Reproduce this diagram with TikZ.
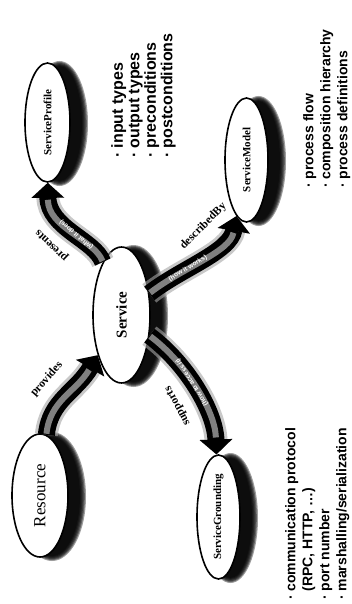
\documentclass[tikz,border=0pt]{standalone}
\usepackage{fontspec}
\setmainfont{Liberation Serif}
\newfontfamily\listfont{Liberation Sans}
\usetikzlibrary{arrows.meta,shapes.geometric}
\newcommand\bul{\makebox[0.6em][l]{·}}
\begin{document}
\begin{tikzpicture}[x=1pt,y=-1pt,
  concept/.style={ellipse, draw=black, line width=1.6pt, fill=white, inner sep=0pt, rotate=90},
  band/.style={draw=black, line width=17pt, preaction={draw=black!35, line width=23pt, opacity=0.6}},
  toend/.style={-{Triangle[length=15pt,width=32pt]},
    postaction={-, draw=black!50, line width=6pt, shorten >=17pt, shorten <=1pt}},
  tostart/.style={{Triangle[length=15pt,width=32pt]}-,
    postaction={-, draw=black!50, line width=6pt, shorten <=17pt, shorten >=1pt}},
  rel/.style={sloped, allow upside down, above=11pt, inner sep=0pt, font=\bfseries\fontsize{11.5}{11.5}\selectfont},
  note/.style={sloped, allow upside down, inner sep=0pt, text=white, font=\listfont\bfseries\fontsize{6.5}{7}\selectfont},
  list/.style={rotate=90, anchor=north west, align=left, inner sep=0pt, font=\listfont\bfseries\fontsize{14}{17}\selectfont}
]
\fill[white] (0,0) rectangle (351,604);
\useasboundingbox (0,0) rectangle (351,604);

% soft shadows to the right of each ellipse
\foreach \cx/\cy/\rx/\ry in {121.5/315/28.5/68, 40/495.5/28/61.5, 47.5/122.5/22.5/59.5, 246.5/160/21.5/62, 218.5/517/21.5/62}{
  \foreach \k in {0,...,5}{
    \fill[black, opacity=0.38] (\cx+12,\cy+1) ellipse [x radius=\rx+6-\k*1.2, y radius=\ry+3-\k];
  }
}

% concepts
\node[concept, minimum width=136pt, minimum height=57pt, font=\bfseries\fontsize{15}{15}\selectfont] (service) at (121.5,315) {Service};
\node[concept, minimum width=123pt, minimum height=56pt, font=\fontsize{17}{17}\selectfont] (resource) at (40,495.5) {Resource};
\node[concept, minimum width=119pt, minimum height=45pt, font=\bfseries\fontsize{11}{11}\selectfont] (profile) at (47.5,122.5) {ServiceProfile};
\node[concept, minimum width=124pt, minimum height=43pt, font=\bfseries\fontsize{11}{11}\selectfont] (model) at (246.5,160) {ServiceModel};
\node[concept, minimum width=124pt, minimum height=43pt, font=\bfseries\fontsize{11}{11}\selectfont] (grounding) at (218.5,517) {ServiceGrounding};

% relations
\draw[band, toend] (resource) .. controls (50,400) and (76,392) .. (service)
  node[rel, pos=0.5] {provides};
\draw[band, toend] (service) .. controls (95,240) and (48,228) .. (profile)
  node[rel, pos=0.55] {presents}
  node[note, pos=0.45] {(what it does)};
\draw[band, toend] (service) .. controls (182,268) and (230,252) .. (model)
  node[rel, pos=0.7] {describedBy}
  node[note, pos=0.36] {(how it works)};
\draw[band, tostart] (grounding) .. controls (215,410) and (185,362) .. (service)
  node[rel, pos=0.45] {supports}
  node[note, pos=0.55] {(how to access it)};

% notes
\node[list, font=\listfont\bfseries\fontsize{16}{16.5}\selectfont] (profnotes) at (111,158) {\bul input types\\\bul output types\\\bul preconditions\\\bul postconditions};
\node[list] (modelnotes) at (303,188) {\bul process flow\\\bul composition hierarchy\\\bul process definitions};
\node[list] (groundnotes) at (285,600) {\bul communication protocol\\\hspace*{0.6em}(RPC, HTTP, …)\\\bul port number\\\bul marshalling/serialization};
\end{tikzpicture}
\end{document}
